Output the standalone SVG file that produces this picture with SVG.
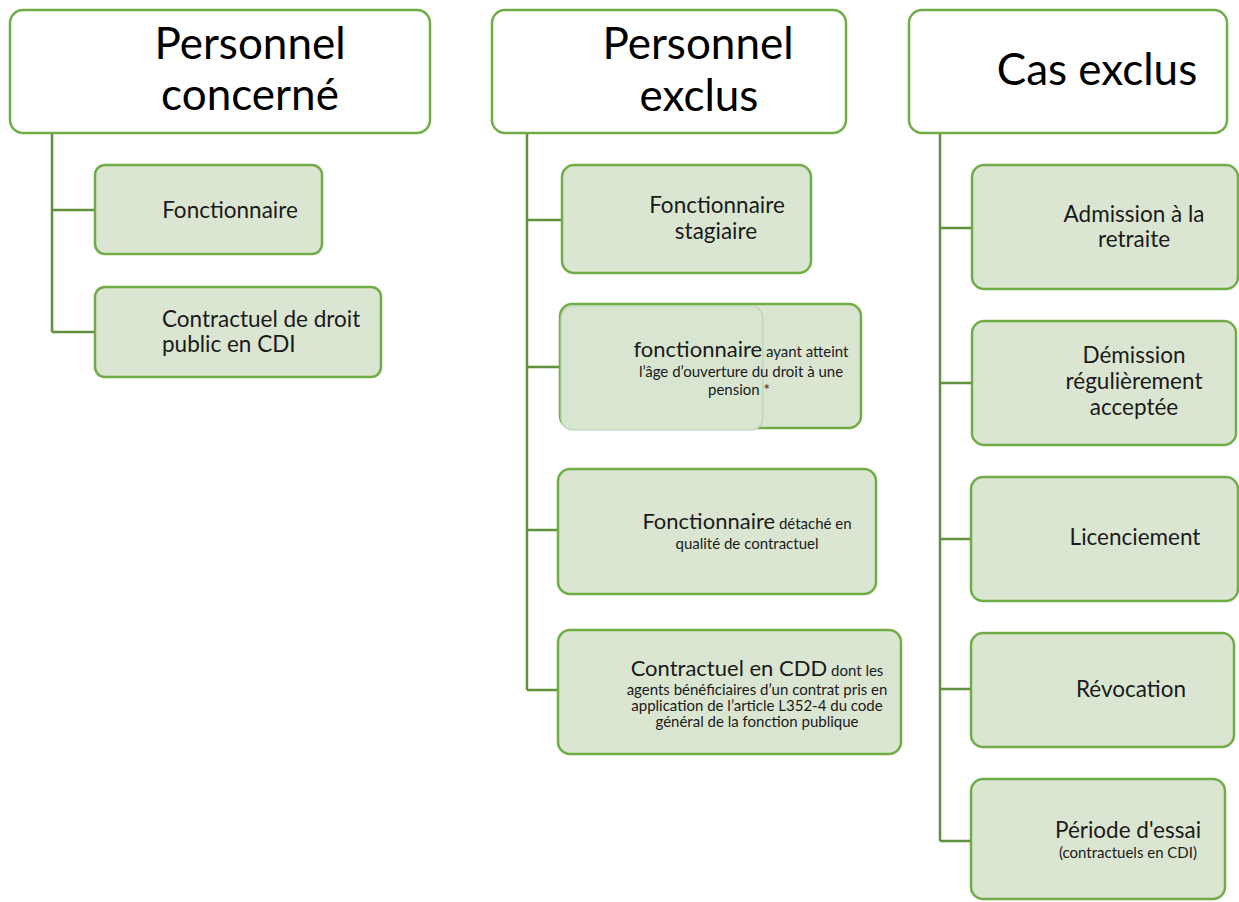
<svg xmlns="http://www.w3.org/2000/svg" width="1239" height="902" viewBox="0 0 1239 902">
<style>
.hdr{fill:#ffffff;stroke:#70ad47;stroke-width:2.5}
.box{fill:#dae6d2;stroke:#70ad47;stroke-width:2.5}
.inner{fill:#d8e5d0;stroke:#bcd4b0;stroke-width:1.2}
.conn{fill:none;stroke:#5f913d;stroke-width:2.5}
text{font-family:Lato,"Liberation Sans",sans-serif;fill:#1a1a1a}
.ht{font-size:44px;fill:#000}
.ct{font-size:22.5px}
.st{font-size:15px}
.big{font-size:22px}
.m{text-anchor:middle}
</style>
<rect width="1239" height="902" fill="#ffffff"/>
<g id="connectors">
<path class="conn" d="M52 134 V332 M52 210 H95 M52 332 H95"/>
<path class="conn" d="M527 134 V690 M527 220 H562 M527 367 H560 M527 530 H558 M527 690 H558"/>
<path class="conn" d="M940 134 V841 M940 228 H972 M940 383 H972 M940 539 H971 M940 689 H971 M940 841 H971"/>
</g>
<g id="h1"><rect class="hdr" x="10" y="10" width="420" height="123" rx="13"/>
<text class="ht m" x="250" y="59">Personnel</text><text class="ht m" x="250" y="110">concerné</text></g>
<g id="h2"><rect class="hdr" x="492" y="10" width="354" height="123" rx="13"/>
<text class="ht m" x="698" y="59">Personnel</text><text class="ht m" x="699" y="111">exclus</text></g>
<g id="h3"><rect class="hdr" x="909" y="10" width="318" height="123" rx="13"/>
<text class="ht m" x="1097" y="85">Cas exclus</text></g>
<g id="l1"><rect class="box" x="95" y="165" width="227" height="89" rx="10"/>
<text class="ct m" x="230" y="218">Fonctionnaire</text></g>
<g id="l2"><rect class="box" x="95" y="287" width="286" height="90" rx="10"/>
<text class="ct" x="162" y="327">Contractuel de droit</text><text class="ct" x="162" y="352">public en CDI</text></g>
<g id="m1"><rect class="box" x="562" y="165" width="249" height="108" rx="12"/>
<text class="ct m" x="717" y="213">Fonctionnaire</text><text class="ct m" x="716" y="239">stagiaire</text></g>
<g id="m2"><rect class="box" x="560" y="304" width="301" height="124" rx="12"/>
<rect class="inner" x="561" y="306" width="202" height="124" rx="12"/>
<text class="m" x="741" y="357"><tspan class="big">fonctionnaire</tspan><tspan class="st"> ayant atteint</tspan></text>
<text class="st m" x="741" y="377">l’âge d’ouverture du droit à une</text>
<text class="st m" x="739" y="395">pension *</text></g>
<g id="m3"><rect class="box" x="558" y="469" width="318" height="125" rx="12"/>
<text class="m" x="747" y="529"><tspan class="big">Fonctionnaire</tspan><tspan class="st"> détaché en</tspan></text>
<text class="st m" x="747" y="549">qualité de contractuel</text></g>
<g id="m4"><rect class="box" x="558" y="630" width="343" height="124" rx="12"/>
<text class="m" x="757" y="676"><tspan class="big">Contractuel en CDD</tspan><tspan class="st"> dont les</tspan></text>
<text class="st m" x="757" y="695">agents bénéficiaires d’un contrat pris en</text>
<text class="st m" x="757" y="711">application de l’article L352-4 du code</text>
<text class="st m" x="757" y="727">général de la fonction publique</text></g>
<g id="r1"><rect class="box" x="972" y="165" width="266" height="124" rx="12"/>
<text class="ct m" x="1134" y="222">Admission à la</text><text class="ct m" x="1134" y="247">retraite</text></g>
<g id="r2"><rect class="box" x="972" y="321" width="264" height="124" rx="12"/>
<text class="ct m" x="1134" y="363">Démission</text><text class="ct m" x="1134" y="389">régulièrement</text><text class="ct m" x="1134" y="415">acceptée</text></g>
<g id="r3"><rect class="box" x="971" y="477" width="267" height="124" rx="12"/>
<text class="ct m" x="1135" y="545">Licenciement</text></g>
<g id="r4"><rect class="box" x="971" y="633" width="263" height="114" rx="12"/>
<text class="ct m" x="1131" y="697">Révocation</text></g>
<g id="r5"><rect class="box" x="971" y="779" width="254" height="120" rx="12"/>
<text class="ct m" x="1128" y="838">Période d'essai</text><text class="st m" x="1128" y="858">(contractuels en CDI)</text></g>
</svg>
